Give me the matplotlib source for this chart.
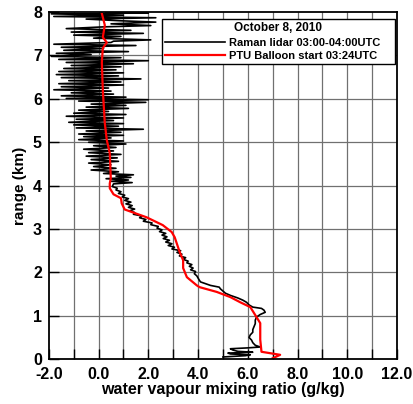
import matplotlib
matplotlib.use("Agg")
import matplotlib.pyplot as plt

plt.rcParams['font.family'] = ['Liberation Sans', 'DejaVu Sans']
plt.rcParams['font.weight'] = 'bold'

# Raman lidar profile (mixing ratio g/kg vs range km)
lidar_h = [0.05, 0.08, 0.10, 0.12, 0.14, 0.16, 0.18, 0.21, 0.24, 0.26, 0.28, 0.32, 0.38, 0.44, 0.50,
           0.56, 0.62, 0.68, 0.75, 0.82, 0.90, 0.97, 1.03, 1.08, 1.13, 1.17, 1.20, 1.25, 1.31, 1.36,
           1.41, 1.47, 1.52, 1.57, 1.62, 1.66, 1.70, 1.74, 1.78, 1.82, 1.87, 1.92, 1.97, 2.02, 2.06,
           2.10, 2.14, 2.18, 2.22, 2.26, 2.30, 2.34, 2.38, 2.42, 2.46, 2.50, 2.54, 2.58, 2.62, 2.66,
           2.70, 2.74, 2.78, 2.82, 2.86, 2.90, 2.94, 2.98, 3.02, 3.06, 3.10, 3.14, 3.18, 3.22, 3.26,
           3.30, 3.34, 3.38, 3.42, 3.46, 3.50, 3.54, 3.58, 3.62, 3.66, 3.70, 3.74, 3.78, 3.82, 3.86,
           3.90, 3.94, 3.98, 4.04, 4.07, 4.10, 4.13, 4.16, 4.19, 4.22, 4.25, 4.28, 4.32, 4.36, 4.40,
           4.44, 4.48, 4.52, 4.56, 4.60, 4.64, 4.68, 4.72, 4.76, 4.80, 4.84, 4.88, 4.92, 4.96, 5.00,
           5.03, 5.06, 5.10, 5.13, 5.16, 5.19, 5.23, 5.26, 5.30, 5.33, 5.37, 5.40, 5.43, 5.46, 5.50,
           5.53, 5.56, 5.60, 5.64, 5.67, 5.71, 5.74, 5.78, 5.81, 5.85, 5.88, 5.92, 5.95, 5.98, 6.01,
           6.04, 6.07, 6.11, 6.14, 6.18, 6.21, 6.25, 6.28, 6.32, 6.35, 6.39, 6.42, 6.46, 6.49, 6.53,
           6.56, 6.60, 6.63, 6.67, 6.70, 6.74, 6.77, 6.81, 6.84, 6.88, 6.91, 6.95, 6.98, 7.02, 7.05,
           7.09, 7.12, 7.16, 7.19, 7.23, 7.26, 7.30, 7.33, 7.36, 7.40, 7.44, 7.47, 7.51, 7.54, 7.58,
           7.62, 7.66, 7.69, 7.73, 7.77, 7.80, 7.84, 7.87, 7.90, 7.93, 7.96, 7.98, 8.00]
lidar_x = [5.0, 5.9, 6.1, 5.3, 5.2, 6.2, 5.6, 5.4, 5.3, 6.0, 6.5, 6.3, 6.2, 6.15, 6.05,
           6.1, 6.2, 6.2, 6.25, 6.3, 6.3, 6.35, 6.5, 6.7, 6.65, 6.55, 6.2, 6.05, 5.95, 5.8,
           5.6, 5.3, 5.1, 5.0, 4.9, 4.85, 4.5, 4.3, 4.1, 4.05, 4.0, 3.95, 3.85, 3.9, 3.7,
           3.8, 3.65, 3.75, 3.55, 3.6, 3.4, 3.5, 3.25, 3.35, 3.15, 3.3, 2.95, 3.05, 2.8, 2.95,
           2.7, 2.85, 2.6, 2.75, 2.55, 2.7, 2.45, 2.55, 2.35, 2.4, 2.1, 2.15, 1.8, 1.9, 1.65,
           1.75, 1.4, 1.45, 1.25, 1.45, 1.2, 1.35, 1.1, 1.3, 1.05, 1.2, 0.95, 1.05, 0.8, 0.9,
           0.7, 0.75, 0.55, 0.6, 1.35, 0.5, 1.2, 0.3, 1.3, 0.7, 1.4, 0.2, 0.8, -0.3, 0.7,
           -0.2, 0.5, -0.4, 0.8, -0.3, 0.75, -0.5, 0.9, -0.4, 0.6, -0.6, 0.7, -0.2, 1.1, -0.4,
           1.0, -0.8, 0.5, -0.6, 1.0, -0.8, 0.9, -0.5, 1.8, -0.9, 0.8, -1.0, 1.0, -1.2, 0.6,
           -0.9, 1.0, -1.3, 1.1, -1.0, 0.4, -0.8, 1.2, -0.5, 1.1, -0.3, 1.9, -0.8, 2.0, -1.3,
           1.1, -1.5, 0.6, -1.1, 0.5, -1.8, 0.4, -1.5, 1.0, -1.6, 0.9, -1.2, 1.7, -1.5, 0.8,
           -1.7, 1.0, -1.6, 0.7, -1.4, 0.9, -1.1, 1.4, -1.3, 2.0, -1.6, 0.9, -1.9, -0.3, -1.7,
           1.2, -1.4, 0.2, -1.5, 1.5, -1.8, 0.5, 0.6, 2.1, -0.2, 0.9, -1.0, 1.8, -1.1, 1.3,
           -1.3, 0.2, 2.1, 0.5, 2.3, 0.9, -0.5, 2.3, -1.8, 1.0, -1.9, 2.0, 0.3]

# PTU balloon profile
balloon_h = [0.02, 0.10, 0.17, 0.45, 0.83, 0.97, 1.20, 1.31, 1.43, 1.55, 1.66, 1.70, 1.89, 2.10,
             2.28, 2.47, 2.81, 2.93, 3.09, 3.27, 3.45, 3.59, 3.71, 3.80, 3.94, 4.05, 4.17, 4.75,
             5.05, 5.44, 6.20, 6.84, 7.17, 7.30, 7.42, 7.70, 7.97]
balloon_x = [7.0, 7.3, 6.55, 6.5, 6.5, 6.35, 6.1, 5.7, 5.3, 4.75, 4.06, 3.95, 3.55, 3.4,
             3.4, 3.26, 3.06, 2.94, 2.58, 1.93, 1.05, 0.93, 0.9, 0.6, 0.45, 0.45, 0.49, 0.45,
             0.33, 0.25, 0.17, 0.13, 0.17, 0.33, 0.17, 0.25, 0.13]

xticks = [-2, 0, 2, 4, 6, 8, 10, 12]
yticks = [0, 1, 2, 3, 4, 5, 6, 7, 8]

fig = plt.figure(figsize=(4.14, 4.04), dpi=100)
ax = fig.add_axes([0.118, 0.111, 0.841, 0.859])

# grid every 1 g/kg and 1 km
for v in range(-1, 12):
    ax.axvline(v, color='#707070', lw=0.9, zorder=0)
for v in range(1, 8):
    ax.axhline(v, color='#707070', lw=0.9, zorder=0)

ax.plot(lidar_x, lidar_h, color='black', lw=1.2, label='Raman lidar 03:00-04:00UTC')
ax.plot(balloon_x, balloon_h, color='red', lw=1.6, label='PTU Balloon start 03:24UTC')

ax.set_xlim(-2, 12)
ax.set_ylim(0, 8)
ax.set_xticks(xticks)
ax.set_xticklabels(['%.1f' % t for t in xticks])
ax.set_yticks(yticks)
ax.set_xticks(range(-2, 13), minor=True)
ax.tick_params(which='both', direction='in', length=7, width=1, labelsize=11.5)
ax.tick_params(axis='x', pad=6)
ax.tick_params(axis='y', pad=5)
for s in ax.spines.values():
    s.set_linewidth(1.3)

ax.set_xlabel('water vapour mixing ratio (g/kg)', fontsize=11.5, fontweight='bold', labelpad=0)
ax.set_ylabel('range (km)', fontsize=11, fontweight='bold', labelpad=4)

leg = ax.legend(loc='upper left', bbox_to_anchor=(0.325, 0.0, 0.669, 0.98), mode='expand',
                title='October 8, 2010',
                fontsize=8, title_fontsize=8.5, frameon=True, fancybox=False,
                edgecolor='black', framealpha=1, handlelength=5.4, handletextpad=0.3,
                borderpad=0.3, labelspacing=0.3, borderaxespad=0.0)
leg.get_title().set_fontweight('bold')
leg.get_frame().set_linewidth(1.0)

fig.savefig('out.png', dpi=100)
